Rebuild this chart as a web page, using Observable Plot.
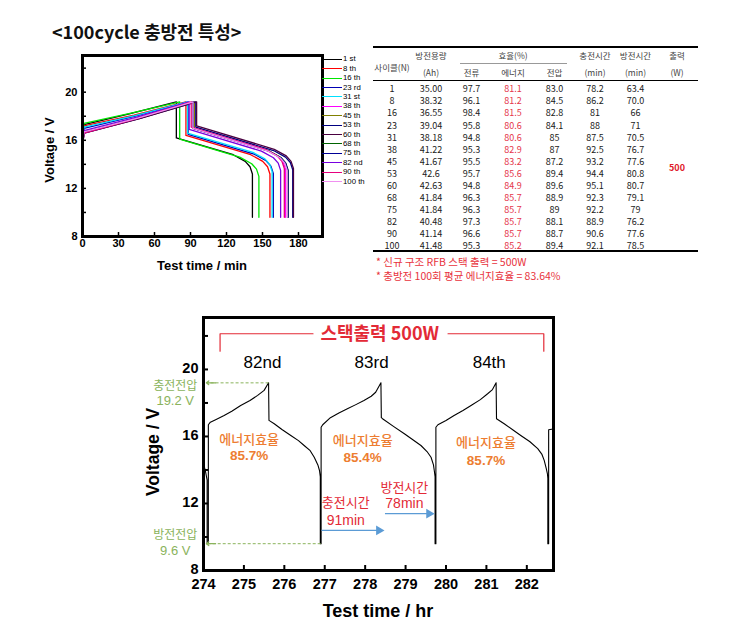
<!DOCTYPE html>
<html><head><meta charset="utf-8">
<script src="https://cdn.jsdelivr.net/npm/d3@7"></script>
<script src="https://cdn.jsdelivr.net/npm/@observablehq/plot@0.6"></script>
<style>
body{margin:0;background:#fff;}
#page{position:relative;width:729px;height:628px;overflow:hidden;font-family:"Liberation Sans",Arial,sans-serif;background:#fff;}
.abs{position:absolute;white-space:nowrap;}
.kr{font-family:"Noto Sans CJK KR","Liberation Sans",sans-serif;}
svg{overflow:visible;}
</style></head><body><div id="page"></div>
<script>
// ---------------- DATA: top chart (voltage vs minutes, 14 cycles) ----------------
const cycleNames = ["1 st","8 th","16 th","23 rd","31 st","38 th","45 th","53 th","60 th","68 th","75 th","82 nd","90 th","100 th"];
const cycleColors = ["#000000","#ff0000","#00e600","#0000b4","#00e0ff","#ff00ff","#808000","#000080","#4a0040","#006400","#000096","#7800e0","#e6007e","#f090f0"];
const c1   = [[0,15.9],[1.2,17.3],[39,18.2],[78.2,19.2],[78.2,16.2],[125.6,14.8],[135.6,14.25],[139.6,13.8],[141.6,13.2],[141.6,9.6]];
const c8   = [[0,15.9],[1.2,17.2],[43,18.1],[86.2,19.2],[86.2,16.4],[140.2,14.8],[150.2,14.25],[154.2,13.8],[156.2,13.2],[156.2,9.6]];
const c16  = [[0,16.0],[1.2,17.4],[40.5,18.25],[81,19.2],[81,16.1],[131,14.6],[141,14.05],[145,13.6],[147,13.0],[147,9.6]];
const c23  = [[0,15.8],[1.2,17.0],[44,18.0],[88,19.2],[88,16.5],[143,14.85],[153,14.3],[157,13.85],[159,13.25],[159,9.6]];
const c31  = [[0,15.8],[1.2,17.1],[43.7,18.05],[87.5,19.2],[87.5,16.6],[142,15.0],[152,14.45],[156,14.0],[158,13.4],[158,9.6]];
const c38  = [[0,15.5],[1.2,16.7],[46.2,17.85],[92.5,19.2],[92.5,17.0],[153.2,15.2],[163.2,14.65],[167.2,14.2],[169.2,13.6],[169.2,9.6]];
const c45  = [[0,15.5],[1.2,16.7],[46.6,17.85],[93.2,19.2],[93.2,17.0],[154.8,15.15],[164.8,14.6],[168.8,14.15],[170.8,13.55],[170.8,9.6]];
const c53  = [[0,15.4],[1.2,16.6],[47.2,17.8],[94.4,19.2],[94.4,17.1],[159.2,15.15],[169.2,14.6],[173.2,14.15],[175.2,13.55],[175.2,9.6]];
const c60  = [[0,15.4],[1.2,16.6],[47.5,17.8],[95.1,19.2],[95.1,17.2],[159.8,15.25],[169.8,14.7],[173.8,14.25],[175.8,13.65],[175.8,9.6]];
const c68  = [[0,15.5],[1.2,16.7],[46.1,17.85],[92.3,19.2],[92.3,17.0],[155.4,15.1],[165.4,14.55],[169.4,14.1],[171.4,13.5],[171.4,9.6]];
const c75  = [[0,15.5],[1.2,16.7],[46.1,17.85],[92.2,19.2],[92.2,17.0],[155.2,15.1],[165.2,14.55],[169.2,14.1],[171.2,13.5],[171.2,9.6]];
const c82  = [[0,15.6],[1.2,16.8],[44.4,17.9],[88.9,19.2],[88.9,16.9],[149.1,15.1],[159.1,14.55],[163.1,14.1],[165.1,13.5],[165.1,9.6]];
const c90  = [[0,15.4],[1.2,16.6],[45.3,17.8],[90.6,19.2],[90.6,17.1],[152.2,15.25],[162.2,14.7],[166.2,14.25],[168.2,13.65],[168.2,9.6]];
const c100 = [[0,15.5],[1.2,16.7],[46,17.85],[92.1,19.2],[92.1,17.0],[154.6,15.1],[164.6,14.55],[168.6,14.1],[170.6,13.5],[170.6,9.6]];
const topCurves = [c1,c8,c16,c23,c31,c38,c45,c53,c60,c68,c75,c82,c90,c100];
const topXTicks = [0,30,60,90,120,150,180];
const topYTicks = [8,12,16,20];
const topYMinor = [8,10,12,14,16,18,20,22];

// ---------------- DATA: table ----------------
const tableCycle   = ["1","8","16","23","31","38","45","53","60","68","75","82","90","100"];
const capacityAh   = ["35.00","38.32","36.55","39.04","38.18","41.22","41.67","42.6","42.63","41.84","41.84","40.48","41.14","41.48"];
const effCurrent   = ["97.7","96.1","98.4","95.8","94.8","95.3","95.5","95.7","94.8","96.3","96.3","97.3","96.6","95.3"];
const effEnergy    = ["81.1","81.2","81.5","80.6","80.6","82.9","83.2","85.6","84.9","85.7","85.7","85.7","85.7","85.2"];
const effVoltage   = ["83.0","84.5","82.8","84.1","85","87","87.2","89.4","89.6","88.9","89","88.1","88.7","89.4"];
const chargeMin    = ["78.2","86.2","81","88","87.5","92.5","93.2","94.4","95.1","92.3","92.2","88.9","90.6","92.1"];
const dischargeMin = ["63.4","70.0","66","71","70.5","76.7","77.6","80.8","80.7","79.1","79","76.2","77.6","78.5"];
const headerTop    = ["방전용량","효율(%)","충전시간","방전시간","출력"];
const headerSub    = ["(Ah)","전류","에너지","전압","(min)","(min)","(W)"];
const powerW = "500";
const notes = ["* 신규 구조 RFB 스택 출력 = 500W","* 충방전 100회 평균 에너지효율 = 83.64%"];

// ---------------- DATA: bottom chart (voltage vs hours) ----------------
const longRun = [
 [274.0,14.4],[274.05,13.9],[274.09,13.4],[274.09,9.6],[274.12,9.6],[274.12,16.7],[274.17,16.85],[274.3,17.0],[274.51,17.25],[274.7,17.5],[274.92,17.85],[275.15,18.15],[275.34,18.45],[275.5,18.75],[275.61,19.2],
 [275.62,16.96],[275.75,16.76],[275.95,16.4],[276.16,16.06],[276.35,15.75],[276.49,15.46],[276.64,15.15],[276.74,14.76],[276.83,14.3],[276.87,13.97],[276.89,13.6],[276.89,9.6],[276.91,9.6],
 [276.91,16.55],[276.95,16.7],[277.14,17.12],[277.35,17.4],[277.56,17.65],[277.77,17.9],[277.97,18.15],[278.15,18.4],[278.26,18.64],[278.39,19.2],
 [278.4,17.12],[278.43,17.06],[278.7,16.6],[278.97,16.16],[279.18,15.8],[279.38,15.46],[279.53,15.1],[279.63,14.76],[279.69,14.3],[279.71,13.97],[279.73,13.6],[279.73,9.6],[279.75,9.6],
 [279.75,16.55],[279.8,16.7],[280.0,16.95],[280.2,17.25],[280.42,17.55],[280.62,17.85],[280.85,18.2],[281.03,18.55],[281.15,18.8],[281.24,19.2],
 [281.25,17.06],[281.44,16.76],[281.65,16.4],[281.85,16.06],[282.07,15.7],[282.27,15.27],[282.37,14.95],[282.43,14.57],[282.48,14.1],[282.51,13.77],[282.52,13.5],[282.52,9.6],[282.54,9.6],[282.54,16.4],[282.65,16.45]
];
const bottomXTicks = [274,275,276,277,278,279,280,281,282];
const bottomYTicks = [8,12,16,20];
const bottomYMinor = [8,10,12,14,16,18,20,22];
const cycleTags = ["82nd","83rd","84th"];
const cycleTagT = [275.46,278.16,281.07];
const cycleTagV = 20.44;
const effLabel = "에너지효율";
const effValues = ["85.7%","85.4%","85.7%"];
const effT = [275.13,277.94,280.99];
const effLabelV = [15.8,15.76,15.6];
const effValueV = [14.87,14.75,14.53];
const timeLabels = ["충전시간","방전시간"];
const timeValues = ["91min","78min"];
const timeT = [277.52,278.97];
const timeLabelV = [12.02,12.92];
const timeValueV = [10.99,11.98];
const arrowStart = [276.92,278.49];
const arrowEnd = [278.39,279.63];
const arrowV = [10.39,11.39];
const limitV = [19.2,9.6];
const limitFrom = [275.61,276.9];
const limitLabels = ["충전전압","방전전압"];
const limitValues = ["19.2 V","9.6 V"];
const limitLabelV = [19.02,10.09];
const limitValueV = [18.14,9.19];
const limitLabelT = 273.3;
const bracketLeft = [[274.41,21.09],[274.41,22.13],[276.71,22.13]];
const bracketRight = [[280.05,22.13],[282.42,22.13],[282.42,21.09]];
const bracketTitle = "스택출력 500W";
const bracketTitleT = 278.36;

// ---------------- RENDER ----------------
const page = document.getElementById("page");
const SANS = "Liberation Sans, Arial, sans-serif";
const KR = "Noto Sans CJK KR, sans-serif";
function addDiv(text, css, cls) {
  const d = document.createElement("div");
  d.className = "abs " + (cls || "");
  d.textContent = text;
  Object.assign(d.style, css);
  page.appendChild(d);
  return d;
}

// Title
addDiv("<100cycle 충방전 특성>", {left:"52px", top:"20px", fontSize:"18px", fontWeight:"bold", lineHeight:"23px", color:"#111"}, "kr");

// Top chart
const topRows = topCurves.flatMap((pts, i) => pts.map(([t, v]) => ({cycle: cycleNames[i], t, v})));
const topPlot = Plot.plot({
  width: 330, height: 250,
  marginLeft: 82, marginRight: 8, marginTop: 15, marginBottom: 54,
  x: {domain: [0, 200], label: null},
  y: {domain: [8, 23.05], label: null},
  color: {domain: cycleNames, range: cycleColors},
  style: {fontFamily: SANS, background: "transparent", color: "#000"},
  marks: [
    Plot.line(topRows, {x: "t", y: "v", z: "cycle", stroke: "cycle", strokeWidth: 1.3}),
    Plot.axisY(topYMinor, {tickSize: -4, tickFormat: () => "", label: null, strokeWidth: 1.5}),
    Plot.axisY(topYTicks, {tickSize: 0, tickPadding: 5, label: null, fontSize: 11, fontWeight: "bold"}),
    Plot.axisX(topXTicks, {tickSize: -4, tickFormat: () => "", label: null, strokeWidth: 1.5}),
    Plot.axisX(topXTicks, {tickSize: 0, tickPadding: 3, label: null, fontSize: 11, fontWeight: "bold"}),
    Plot.frame({stroke: "#000", strokeWidth: 3})
  ]
});
Object.assign(topPlot.style, {position: "absolute", left: "0px", top: "40px"});
page.appendChild(topPlot);
addDiv("Voltage / V", {left:"49px", top:"150px", transform:"translate(-50%,-50%) rotate(-90deg)", fontSize:"13px", fontWeight:"bold"});
addDiv("Test time / min", {left:"202px", top:"265px", transform:"translate(-50%,-50%)", fontSize:"13px", fontWeight:"bold"});

// Legend
cycleNames.forEach((name, i) => {
  const row = document.createElement("div");
  row.className = "abs";
  Object.assign(row.style, {left: "322px", top: (59.3 + 9.4 * i - 5) + "px", height: "10px", lineHeight: "10px", fontSize: "7.8px", display: "flex", alignItems: "center"});
  const sw = document.createElement("span");
  Object.assign(sw.style, {display: "inline-block", width: "20px", height: "0", borderTop: "1.3px solid " + cycleColors[i], marginRight: "1px"});
  row.appendChild(sw);
  row.appendChild(document.createTextNode(name));
  page.appendChild(row);
});

// Table
const colEdges = [373,411,451,492,534,575,615,656,698];
const hdrColor = "#444", valColor = "#1a1a1a", redColor = "#e5364a";
function cell(text, c0, c1e, cy, css, cls) {
  return addDiv(text, Object.assign({left: colEdges[c0] + "px", width: (colEdges[c1e] - colEdges[c0]) + "px", top: (cy - 7) + "px", height: "14px", lineHeight: "14px", textAlign: "center", fontSize: "8.5px"}, css), cls);
}
function rule(x1, x2, y, w, color) {
  addDiv("", {left: x1 + "px", top: (y - w / 2) + "px", width: (x2 - x1) + "px", height: w + "px", background: color});
}
rule(373, 698, 47, 2, "#000");
rule(460, 567, 63, 1, "#999");
rule(373, 698, 80, 1, "#000");
rule(373, 698, 250.5, 2, "#000");
cell("사이클(N)", 0, 1, 66.7, {color: hdrColor}, "kr");
cell(headerTop[0], 1, 2, 55, {color: hdrColor}, "kr");
cell(headerTop[1], 2, 5, 55, {color: hdrColor}, "kr");
cell(headerTop[2], 5, 6, 55, {color: hdrColor}, "kr");
cell(headerTop[3], 6, 7, 55, {color: hdrColor}, "kr");
cell(headerTop[4], 7, 8, 55, {color: hdrColor}, "kr");
headerSub.forEach((h, j) => cell(h, j + 1, j + 2, 72, {color: hdrColor}, "kr"));
const cols = [tableCycle, capacityAh, effCurrent, effEnergy, effVoltage, chargeMin, dischargeMin];
tableCycle.forEach((_, i) => {
  const cy = 89.3 + 12.08 * i;
  cols.forEach((col, j) => cell(col[i], j, j + 1, cy, {color: j === 3 ? redColor : valColor, fontSize: "9px"}, "kr"));
});
cell(powerW, 7, 8, 89.3 + 12.08 * 6.5, {color: "#e0202a", fontWeight: "bold", fontSize: "9px"}, "kr");
notes.forEach((n, i) => addDiv(n, {left: "376px", top: (262 + 14 * i - 7) + "px", lineHeight: "14px", fontSize: "10.5px", color: "#e8323c"}, "kr"));

// Bottom chart
const GREEN = "#8ab35c", ORANGE = "#ed7d31", RED = "#e32a36", BLUE = "#5b9bd5";
const bottomPlot = Plot.plot({
  width: 729, height: 328,
  marginLeft: 203, marginRight: 176, marginTop: 17, marginBottom: 58,
  x: {domain: [274, 282.66], label: null},
  y: {domain: [8, 23.1], label: null},
  style: {fontFamily: SANS, background: "transparent", color: "#000"},
  marks: [
    Plot.line(longRun, {x: d => d[0], y: d => d[1], stroke: "#000", strokeWidth: 1.1}),
    // limit voltage dashed guides with open arrowheads
    Plot.link(limitV, {x1: (d, i) => limitFrom[i], x2: 274.1, y1: d => d, y2: d => d, stroke: GREEN, strokeDasharray: "3,2", strokeWidth: 1}),
    Plot.arrow(limitV, {x1: 274.3, x2: 274.07, y1: d => d, y2: d => d, stroke: GREEN, strokeWidth: 1.2, headLength: 9, headAngle: 75}),
    Plot.text(limitLabels, {x: limitLabelT, y: (d, i) => limitLabelV[i], text: d => d, fill: GREEN, fontSize: 12, fontFamily: KR}),
    Plot.text(limitValues, {x: limitLabelT, y: (d, i) => limitValueV[i], text: d => d, fill: GREEN, fontSize: 13, fontFamily: SANS}),
    // bracket
    Plot.line(bracketLeft, {x: d => d[0], y: d => d[1], stroke: RED, strokeWidth: 1.2}),
    Plot.line(bracketRight, {x: d => d[0], y: d => d[1], stroke: RED, strokeWidth: 1.2}),
    Plot.text([bracketTitle], {x: bracketTitleT, y: 22.13, text: d => d, fill: RED, fontSize: 18, fontWeight: "bold", fontFamily: KR}),
    // cycle tags
    Plot.text(cycleTags, {x: (d, i) => cycleTagT[i], y: cycleTagV, text: d => d, fontSize: 17, fill: "#000"}),
    // efficiency
    Plot.text(effT, {x: d => d, y: (d, i) => effLabelV[i], text: () => effLabel, fill: ORANGE, fontSize: 13, fontFamily: KR, fontWeight: 500}),
    Plot.text(effT, {x: d => d, y: (d, i) => effValueV[i], text: (d, i) => effValues[i], fill: ORANGE, fontSize: 13.5, fontWeight: "bold"}),
    // charge / discharge time annotations
    Plot.text(timeLabels, {x: (d, i) => timeT[i], y: (d, i) => timeLabelV[i], text: d => d, fill: RED, fontSize: 13, fontFamily: KR}),
    Plot.text(timeValues, {x: (d, i) => timeT[i], y: (d, i) => timeValueV[i], text: d => d, fill: RED, fontSize: 14}),
    Plot.link(arrowV, {x1: (d, i) => arrowStart[i], x2: (d, i) => arrowEnd[i], y1: d => d, y2: d => d, stroke: BLUE, strokeWidth: 1.3}),
    Plot.dot(arrowV, {x: (d, i) => arrowEnd[i], y: d => d, symbol: "triangle", rotate: 90, r: 3.6, fill: BLUE, stroke: "none", dx: -2}),
    // axes
    Plot.axisY(bottomYMinor, {tickSize: -5, tickFormat: () => "", label: null, strokeWidth: 2}),
    Plot.axisY(bottomYTicks, {tickSize: 0, tickPadding: 5, label: null, fontSize: 14.5, fontWeight: "bold", dy: -1}),
    Plot.axisX(bottomXTicks, {tickSize: -5, tickFormat: () => "", label: null, strokeWidth: 2}),
    Plot.axisX(bottomXTicks, {tickSize: 0, tickPadding: 8, label: null, fontSize: 14.5, fontWeight: "bold"}),
    Plot.frame({stroke: "#000", strokeWidth: 3})
  ]
});
Object.assign(bottomPlot.style, {position: "absolute", left: "0px", top: "300px"});
page.appendChild(bottomPlot);
addDiv("Voltage / V", {left:"153px", top:"452px", transform:"translate(-50%,-50%) rotate(-90deg)", fontSize:"17.5px", fontWeight:"bold"});
addDiv("Test time / hr", {left:"378px", top:"611px", transform:"translate(-50%,-50%)", fontSize:"18px", fontWeight:"bold"});
</script></body></html>
